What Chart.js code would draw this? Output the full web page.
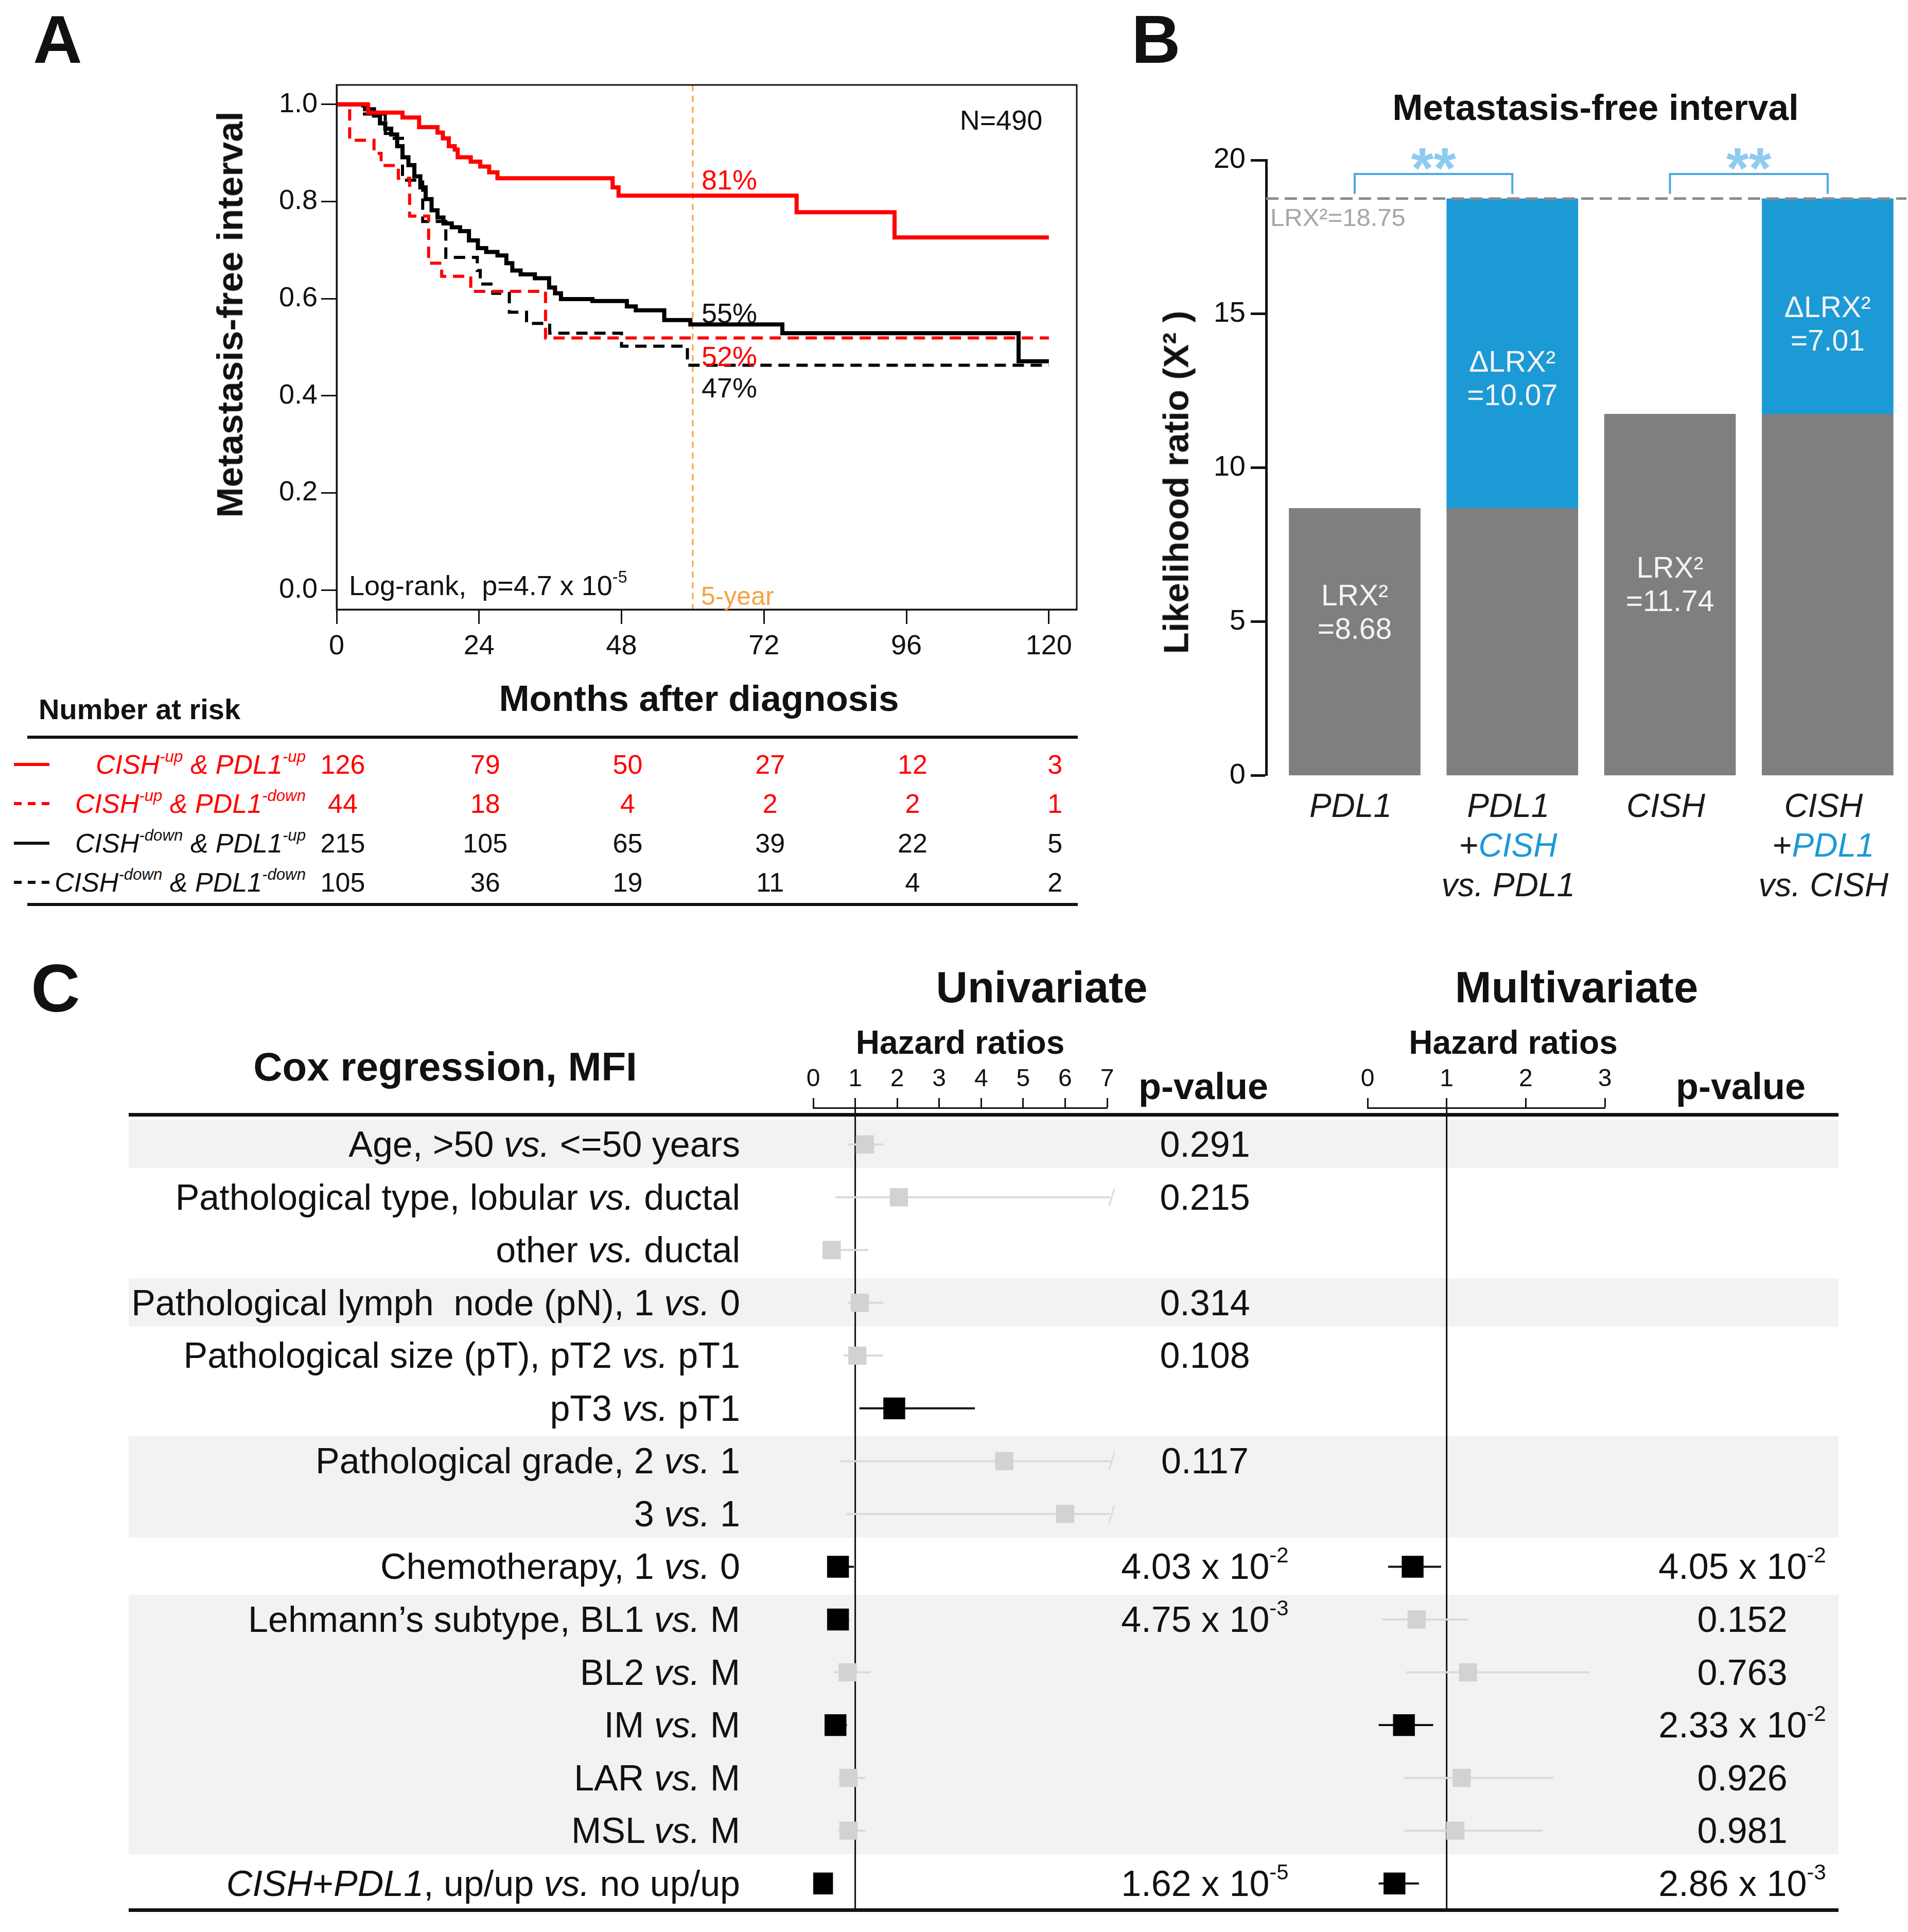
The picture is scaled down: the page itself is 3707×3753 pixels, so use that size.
<!DOCTYPE html>
<html><head><meta charset="utf-8"><title>Figure</title>
<script src="https://cdn.jsdelivr.net/npm/chart.js@4.4.1/dist/chart.umd.min.js"></script>
<style>
html,body{margin:0;padding:0;background:#fff;}
body{position:relative;width:3707px;height:3753px;overflow:hidden;font-family:"Liberation Sans",Arial,Helvetica,sans-serif;color:#111;}
canvas{position:absolute;z-index:1;}
.t{position:absolute;white-space:nowrap;z-index:3;}
.band{position:absolute;background:#f2f2f2;z-index:0;}
.rule{position:absolute;background:#111;z-index:2;}
.smp{position:absolute;z-index:2;}
sup{font-size:0.6em;vertical-align:0.75em;line-height:0;}
</style></head><body>
<script>
// ================= DATA =================
// Panel A: Kaplan-Meier, metastasis-free interval (months, survival after each step)
const kmXTicks = [0, 24, 48, 72, 96, 120];
const kmYTicks = [0, 0.2, 0.4, 0.6, 0.8, 1.0];
const kmGroups = ['CISH-up & PDL1-up', 'CISH-up & PDL1-down', 'CISH-down & PDL1-up', 'CISH-down & PDL1-down'];
const upUpT = [0, 5.3, 11.1, 13.9, 17.0, 17.9, 18.9, 19.9, 20.4, 22.6, 24.2, 25.7, 27.1, 46.5, 47.5, 77.5, 94.0, 120];
const upUpS = [1, 0.983, 0.973, 0.953, 0.942, 0.93, 0.914, 0.907, 0.891, 0.882, 0.872, 0.86, 0.848, 0.829, 0.812, 0.778, 0.726, 0.726];
const upDownT = [0, 2.2, 6.3, 7.5, 10.4, 12.3, 15.5, 17.7, 22.6, 35.2, 120];
const upDownS = [1, 0.926, 0.899, 0.874, 0.848, 0.77, 0.673, 0.646, 0.615, 0.519, 0.519];
const downUpT = [0, 4.8, 6.3, 7.3, 8.2, 9.2, 10.2, 11.1, 12.1, 13.1, 14.1, 15.0, 16.0, 17.0, 18.0, 19.4, 20.8, 22.3, 23.8, 25.2, 27.1, 28.6, 29.6, 31.0, 33.4, 35.8, 36.8, 37.8, 43.1, 48.9, 50.4, 55.2, 59.6, 75.1, 114.9, 120];
const downUpS = [1, 0.99, 0.977, 0.961, 0.95, 0.938, 0.914, 0.891, 0.875, 0.852, 0.829, 0.805, 0.782, 0.767, 0.755, 0.747, 0.739, 0.72, 0.704, 0.696, 0.689, 0.673, 0.658, 0.65, 0.642, 0.623, 0.611, 0.599, 0.595, 0.584, 0.576, 0.556, 0.547, 0.529, 0.471, 0.471];
const downDownT = [0, 4.4, 8.2, 9.7, 11.1, 14.5, 18.4, 23.7, 24.2, 26.3, 29.1, 32.0, 35.9, 48.0, 59.1, 120];
const downDownS = [1, 0.98, 0.94, 0.93, 0.844, 0.759, 0.685, 0.658, 0.63, 0.611, 0.572, 0.549, 0.529, 0.502, 0.463, 0.463];
const fiveYear = 60;
const kmAt5 = [0.81, 0.52, 0.55, 0.47];            // upUp, upDown, downUp, downDown
const riskUpUp = [126, 79, 50, 27, 12, 3];
const riskUpDown = [44, 18, 4, 2, 2, 1];
const riskDownUp = [215, 105, 65, 39, 22, 5];
const riskDownDown = [105, 36, 19, 11, 4, 2];
const nTotal = 490;
const logRankP = '4.7 x 10-5';

// Panel B: likelihood ratio chi-square
const bCatMain = ['PDL1', 'PDL1', 'CISH', 'CISH'];
const bCatAdded = [null, 'CISH', null, 'PDL1'];
const bBase = [8.68, 8.68, 11.74, 11.74];
const bDelta = [0, 10.07, 0, 7.01];
const bFull = 18.75;
const bTicks = [0, 5, 10, 15, 20];
const bPairs = [[0, 1], [2, 3]];

// Panel C: Cox regression forest plot
const rowLabels = [
  'Age, >50 vs. <=50 years',
  'Pathological type, lobular vs. ductal',
  'other vs. ductal',
  'Pathological lymph  node (pN), 1 vs. 0',
  'Pathological size (pT), pT2 vs. pT1',
  'pT3 vs. pT1',
  'Pathological grade, 2 vs. 1',
  '3 vs. 1',
  'Chemotherapy, 1 vs. 0',
  'Lehmann\u2019s subtype, BL1 vs. M',
  'BL2 vs. M',
  'IM vs. M',
  'LAR vs. M',
  'MSL vs. M',
  'CISH+PDL1, up/up vs. no up/up'
];
const bandGroups = [[0, 0], [3, 3], [6, 7], [9, 13]];
const uniTicks = [0, 1, 2, 3, 4, 5, 6, 7];
const uniHR  = [1.23, 2.04, 0.44, 1.11, 1.05, 1.93, 4.55, 6.0, 0.59, 0.59, 0.82, 0.53, 0.84, 0.84, 0.21];
const uniLo  = [0.82, 0.53, 0.21, 0.82, 0.72, 1.10, 0.65, 0.79, 0.38, 0.42, 0.50, 0.35, 0.60, 0.60, 0.08];
const uniHi  = [1.67, 8.5, 1.31, 1.67, 1.67, 3.85, 8.5, 8.5, 0.97, 0.85, 1.37, 0.80, 1.24, 1.24, 0.45];
const uniSig = [0, 0, 0, 0, 0, 1, 0, 0, 1, 1, 0, 1, 0, 0, 1];
const uniP = ['0.291', '0.215', '', '0.314', '0.108', '', '0.117', '', '4.03 x 10-2', '4.75 x 10-3', '', '', '', '', '1.62 x 10-5'];
const multiTicks = [0, 1, 2, 3];
const multiHR  = [null, null, null, null, null, null, null, null, 0.57, 0.62, 1.27, 0.46, 1.19, 1.11, 0.34];
const multiLo  = [null, null, null, null, null, null, null, null, 0.26, 0.18, 0.49, 0.14, 0.46, 0.46, 0.14];
const multiHi  = [null, null, null, null, null, null, null, null, 0.93, 1.27, 2.81, 0.83, 2.35, 2.21, 0.65];
const multiSig = [0, 0, 0, 0, 0, 0, 0, 0, 1, 0, 0, 1, 0, 0, 1];
const multiP = ['', '', '', '', '', '', '', '', '4.05 x 10-2', '0.152', '0.763', '2.33 x 10-2', '0.926', '0.981', '2.86 x 10-3'];

// ================= HELPERS =================
const FONT = '"Liberation Sans", Arial, Helvetica, sans-serif';
Chart.defaults.font.family = FONT;
Chart.defaults.color = '#111';
const RED = '#ff0000', BLUE = '#1b9ad6';

function mkCanvas(l, t, w, h) {
  const c = document.createElement('canvas');
  c.width = w; c.height = h;
  c.dataset.ox = l; c.dataset.oy = t;
  Object.assign(c.style, {left: l + 'px', top: t + 'px', width: w + 'px', height: h + 'px'});
  document.body.appendChild(c);
  return c;
}
// page coordinates from a chart's scales
const PX = (chart, v, axis) => +chart.canvas.dataset.ox + chart.scales[axis || 'x'].getPixelForValue(v);
const PY = (chart, v, axis) => +chart.canvas.dataset.oy + chart.scales[axis || 'y'].getPixelForValue(v);

function T(html, x, y, o) {
  o = o || {};
  const d = document.createElement('div');
  d.className = 't'; d.innerHTML = html;
  const size = o.size || 54, lh = o.lh || Math.round(size * 1.15);
  const s = d.style;
  s.left = x + 'px'; s.top = y + 'px';
  s.fontSize = size + 'px'; s.lineHeight = lh + 'px';
  s.fontWeight = o.bold ? '700' : '400';
  s.fontStyle = o.italic ? 'italic' : 'normal';
  s.color = o.color || '#111';
  if (o.pre) s.whiteSpace = 'pre';
  if (o.ta) s.textAlign = o.ta;
  const tx = o.align === 'l' ? '0' : (o.align === 'r' ? '-100%' : '-50%');
  const ty = o.first ? (-lh / 2) + 'px' : '-50%';
  s.transform = 'translate(' + tx + ',' + ty + ')' + (o.rot ? ' rotate(' + o.rot + 'deg)' : '');
  document.body.appendChild(d);
  return d;
}
function blk(cls, l, t, w, h, bg) {
  const d = document.createElement('div');
  d.className = cls;
  Object.assign(d.style, {left: l + 'px', top: t + 'px', width: w + 'px', height: h + 'px'});
  if (bg) d.style.background = bg;
  document.body.appendChild(d);
  return d;
}
const pts = (t, s) => t.map((v, i) => ({x: v, y: s[i]}));
const esc = s => s.replace(/&/g, '&amp;').replace(/</g, '&lt;').replace(/>/g, '&gt;');
const fmtP = s => s.replace(/10-(\d)/, '10<sup>-$1</sup>');
const fmtRow = s => esc(s).replace(/\bvs\./g, '<i>vs.</i>').replace(/(CISH|PDL1)/g, '<i>$1</i>');
const supLabel = g => g.split(' & ').map(p => { const k = p.indexOf('-'); return p.slice(0, k) + '<sup>' + p.slice(k) + '</sup>'; }).join(' &amp; ');

// ================= PANEL A =================
const kmDeco = {
  id: 'kmDeco',
  beforeDatasetsDraw(chart) {
    const {ctx, chartArea: a, scales: {x}} = chart;
    const px = x.getPixelForValue(fiveYear);
    ctx.save();
    ctx.strokeStyle = '#f5a342'; ctx.lineWidth = 3; ctx.setLineDash([12, 9]);
    ctx.beginPath(); ctx.moveTo(px, a.top); ctx.lineTo(px, a.bottom); ctx.stroke();
    ctx.restore();
  },
  afterDraw(chart) {
    const {ctx, chartArea: a} = chart;
    ctx.save();
    ctx.strokeStyle = '#111'; ctx.lineWidth = 3;
    ctx.strokeRect(a.left, a.top, a.right - a.left, a.bottom - a.top);
    ctx.restore();
  }
};
const lineCommon = {stepped: true, pointRadius: 0, pointHoverRadius: 0, fill: false, tension: 0, borderJoinStyle: 'miter', borderCapStyle: 'butt'};
const cA = mkCanvas(300, 100, 1900, 1220);
const kmChart = new Chart(cA, {
  type: 'line',
  data: {datasets: [
    Object.assign({label: kmGroups[0], data: pts(upUpT, upUpS), borderColor: RED, borderWidth: 8}, lineCommon),
    Object.assign({label: kmGroups[2], data: pts(downUpT, downUpS), borderColor: '#000', borderWidth: 8}, lineCommon),
    Object.assign({label: kmGroups[1], data: pts(upDownT, upDownS), borderColor: RED, borderWidth: 6, borderDash: [22, 13]}, lineCommon),
    Object.assign({label: kmGroups[3], data: pts(downDownT, downDownS), borderColor: '#000', borderWidth: 6, borderDash: [22, 13]}, lineCommon)
  ]},
  options: {
    responsive: false, devicePixelRatio: 1, animation: false, events: [],
    layout: {padding: {left: 0, top: 65, right: 108, bottom: 0}},
    plugins: {legend: {display: false}, tooltip: {enabled: false}},
    scales: {
      x: {type: 'linear', min: 0, max: 124.7,
        afterBuildTicks: s => { s.ticks = kmXTicks.map(v => ({value: v})); },
        afterFit: s => { s.height = 136; },
        grid: {drawOnChartArea: false, tickLength: 28, tickColor: '#111', tickWidth: 3},
        border: {color: '#111', width: 3},
        ticks: {font: {size: 54}, color: '#111', padding: 12, maxRotation: 0, autoSkip: false}},
      y: {type: 'linear', min: -0.04, max: 1.04,
        afterBuildTicks: s => { s.ticks = kmYTicks.map(v => ({value: v})); },
        afterFit: s => { s.width = 354; },
        grid: {drawOnChartArea: false, tickLength: 30, tickColor: '#111', tickWidth: 3},
        border: {color: '#111', width: 3},
        ticks: {font: {size: 54}, color: '#111', padding: 7, callback: v => Number(v).toFixed(1)}}
    }
  },
  plugins: [kmDeco]
});
(function () {
  T('A', 112, 77, {size: 132, bold: true});
  T('Metastasis-free interval', 447, 611, {size: 71, bold: true, rot: -90});
  T('N=' + nTotal, 1945, 233, {size: 54});
  const p5 = PX(kmChart, fiveYear);
  const pctColor = [RED, RED, '#111', '#111'];
  const pctOff = [0.035, -0.039, 0.02, -0.053];
  kmAt5.forEach((v, i) => T(Math.round(v * 100) + '%', p5 + 17, PY(kmChart, v + pctOff[i]), {size: 54, color: pctColor[i], align: 'l'}));
  T('5-year', p5 + 16, 1158, {size: 50, color: '#f5a342', align: 'l'});
  T('Log-rank,&nbsp; p=' + fmtP(logRankP), 678, 1137, {size: 54, align: 'l'});
  // risk table
  T('Number at risk', 75, 1378, {size: 56, bold: true, align: 'l'});
  T('Months after diagnosis', 1358, 1357, {size: 71, bold: true});
  blk('rule', 53, 1429, 2041, 6);
  blk('rule', 53, 1754, 2041, 6);
  const risk = [riskUpUp, riskUpDown, riskDownUp, riskDownDown];
  const col = [RED, RED, '#111', '#111'];
  const dashed = [false, true, false, true];
  risk.forEach((r, i) => {
    const y = 1485 + i * 76.3;
    T(supLabel(kmGroups[i]), 594, y, {size: 52, italic: true, color: col[i], align: 'r'});
    const smp = blk('smp', 27, y - 3, 69, 6);
    smp.style.background = dashed[i] ? 'repeating-linear-gradient(90deg,' + col[i] + ' 0 15px, transparent 15px 27px)' : col[i];
    r.forEach((n, k) => T(String(n), PX(kmChart, kmXTicks[k]) + 12, y, {size: 52, color: col[i]}));
  });
})();

// ================= PANEL B =================
const bDeco = {
  id: 'bDeco',
  afterDatasetsDraw(chart) {
    const {ctx, chartArea: a, scales: {x, y}} = chart;
    ctx.save();
    const yl = y.getPixelForValue(bFull);
    ctx.strokeStyle = '#8c8c8c'; ctx.lineWidth = 5; ctx.setLineDash([24, 12]);
    ctx.beginPath(); ctx.moveTo(a.left, yl); ctx.lineTo(a.right, yl); ctx.stroke();
    ctx.setLineDash([]);
    ctx.strokeStyle = '#4ea9e2'; ctx.lineWidth = 4;
    bPairs.forEach(([i, j]) => {
      const x1 = x.getPixelForValue(i), x2 = x.getPixelForValue(j);
      const yt = y.getPixelForValue(19.55), yb = y.getPixelForValue(18.9);
      ctx.beginPath(); ctx.moveTo(x1, yb); ctx.lineTo(x1, yt); ctx.lineTo(x2, yt); ctx.lineTo(x2, yb); ctx.stroke();
    });
    ctx.restore();
  }
};
const cB = mkCanvas(2150, 250, 1557, 1300);
const bChart = new Chart(cB, {
  type: 'bar',
  data: {datasets: [
    {label: 'LRX\u00b2', data: bBase.map((v, i) => ({x: i, y: v})), backgroundColor: '#7f7f7f', barThickness: 255, borderWidth: 0},
    {label: '\u0394LRX\u00b2', data: bDelta.map((v, i) => ({x: i, y: v})), backgroundColor: BLUE, barThickness: 255, borderWidth: 0}
  ]},
  options: {
    responsive: false, devicePixelRatio: 1, animation: false, events: [],
    layout: {padding: {left: 0, top: 61, right: 3, bottom: 26}},
    plugins: {legend: {display: false}, tooltip: {enabled: false}},
    scales: {
      x: {type: 'linear', display: false, stacked: true, offset: false, min: -0.5615, max: 3.5,
        grid: {offset: false},
        afterBuildTicks: s => { s.ticks = bBase.map((_, i) => ({value: i})); }},
      y: {stacked: true, min: 0, max: 20,
        afterBuildTicks: s => { s.ticks = bTicks.map(v => ({value: v})); },
        afterFit: s => { s.width = 310; },
        grid: {drawOnChartArea: false, tickLength: 30, tickColor: '#111', tickWidth: 5},
        border: {color: '#111', width: 5},
        ticks: {font: {size: 56}, color: '#111', padding: 10}}
    }
  },
  plugins: [bDeco]
});
(function () {
  T('B', 2246, 77, {size: 132, bold: true});
  T('Metastasis-free interval', 3100, 209, {size: 71, bold: true});
  T('Likelihood ratio (X\u00b2 )', 2285, 937, {size: 69, bold: true, rot: -90});
  T('LRX\u00b2=' + bFull.toFixed(2), 2468, PY(bChart, bFull) + 36, {size: 49, color: '#a6a6a6', align: 'l'});
  bPairs.forEach(([i, j]) => {
    const cx = (PX(bChart, i) + PX(bChart, j)) / 2;
    T('**', cx, PY(bChart, 19.55) - 12, {size: 112, bold: true, color: '#8ecbf0'});
  });
  bBase.forEach((v, i) => {
    const cx = PX(bChart, i);
    if (bDelta[i] > 0) {
      T('\u0394LRX\u00b2<br>=' + bDelta[i].toFixed(2), cx, PY(bChart, v + bDelta[i] * 0.42), {size: 57, lh: 65, color: '#f4f4f4', ta: 'center'});
    } else {
      T('LRX\u00b2<br>=' + v.toFixed(2), cx, PY(bChart, 2.7 + v * 0.3), {size: 57, lh: 65, color: '#f4f4f4', ta: 'center'});
    }
    let html = '<i>' + bCatMain[i] + '</i>';
    if (bCatAdded[i]) html += '<br>+<i style="color:' + BLUE + '">' + bCatAdded[i] + '</i><br><i>vs. ' + bCatMain[i] + '</i>';
    T(html, cx - 8, 1565, {size: 64, lh: 77, first: true, ta: 'center', color: '#1a1a1a'});
  });
})();

// ================= PANEL C =================
const forestPlugin = {
  id: 'forest',
  beforeDatasetsDraw(chart) {
    const {ctx, chartArea: a, scales: {x, y}} = chart;
    ctx.save();
    const p1 = x.getPixelForValue(1);
    ctx.strokeStyle = '#111'; ctx.lineWidth = 3;
    ctx.beginPath(); ctx.moveTo(p1, a.top); ctx.lineTo(p1, a.bottom); ctx.stroke();
    chart.data.datasets[0].data.forEach(d => {
      const py = y.getPixelForValue(d.y);
      const over = d.hi > x.max;
      const xl = x.getPixelForValue(Math.max(d.lo, x.min));
      const xh = x.getPixelForValue(Math.min(d.hi, x.max)) + (over ? 6 : 0);
      const c = d.sig ? '#111' : '#dadada';
      ctx.strokeStyle = c; ctx.lineWidth = 4;
      ctx.beginPath(); ctx.moveTo(xl, py); ctx.lineTo(xh, py); ctx.stroke();
      if (over) {
        ctx.lineWidth = 3;
        ctx.beginPath(); ctx.moveTo(xh - 2, py + 17); ctx.lineTo(xh + 8, py - 17); ctx.stroke();
      }
    });
    ctx.restore();
  }
};
function forestChart(left, width, padL, padR, xmax, ticks, data) {
  const c = mkCanvas(left, 2000, width, 1740);
  return new Chart(c, {
    type: 'scatter',
    data: {datasets: [{data: data, pointStyle: 'rect',
      pointRadius: ctx => (ctx.raw && ctx.raw.sig) ? 30 : 25,
      pointHoverRadius: ctx => (ctx.raw && ctx.raw.sig) ? 30 : 25,
      pointBackgroundColor: ctx => (ctx.raw && ctx.raw.sig) ? '#000' : '#d2d2d2',
      pointBorderWidth: 0, pointBorderColor: 'rgba(0,0,0,0)'}]},
    options: {
      responsive: false, devicePixelRatio: 1, animation: false, events: [],
      layout: {padding: {left: padL, right: padR, top: 0, bottom: 18}},
      plugins: {legend: {display: false}, tooltip: {enabled: false}},
      scales: {
        x: {type: 'linear', position: 'top', min: 0, max: xmax,
          afterBuildTicks: s => { s.ticks = ticks.map(v => ({value: v})); },
          afterFit: s => { s.height = 152; },
          grid: {drawOnChartArea: false, tickLength: 19, tickColor: '#111', tickWidth: 3},
          border: {color: '#111', width: 3},
          ticks: {font: {size: 48}, color: '#111', padding: 7, maxRotation: 0, autoSkip: false}},
        y: {type: 'linear', display: false, min: -0.694, max: 14.5, reverse: true}
      }
    },
    plugins: [forestPlugin]
  });
}
const uniData = rowLabels.map((_, i) => ({x: uniHR[i], y: i, lo: uniLo[i], hi: uniHi[i], sig: uniSig[i] === 1}));
const multiData = rowLabels.map((_, i) => multiHR[i] == null ? null : ({x: multiHR[i], y: i, lo: multiLo[i], hi: multiHi[i], sig: multiSig[i] === 1})).filter(Boolean);
const uniChart = forestChart(1480, 760, 100, 89, 7, uniTicks, uniData);
const multiChart = forestChart(2560, 640, 97, 82, 3, multiTicks, multiData);
(function () {
  const ys = i => PY(uniChart, i);
  T('C', 108, 1920, {size: 132, bold: true});
  T('Univariate', 2024, 1918, {size: 85, bold: true});
  T('Multivariate', 3063, 1918, {size: 85, bold: true});
  T('Cox regression, MFI', 865, 2072, {size: 78, bold: true});
  T('Hazard ratios', (PX(uniChart, 0) + PX(uniChart, 7)) / 2, 2025, {size: 64, bold: true});
  T('Hazard ratios', 2940, 2025, {size: 64, bold: true});
  T('p-value', 2338, 2110, {size: 72, bold: true});
  T('p-value', 3382, 2110, {size: 72, bold: true});
  bandGroups.forEach(([a, b]) => blk('band', 250, ys(a) - 48, 3322, ys(b) - ys(a) + 94));
  blk('rule', 250, ys(0) - 61, 3322, 7);
  blk('rule', 250, ys(14) + 48, 3322, 7);
  rowLabels.forEach((lab, i) => {
    T(fmtRow(lab), 1438, ys(i), {size: 70, align: 'r', pre: true});
    if (uniP[i]) T(fmtP(uniP[i]), 2341, ys(i), {size: 70});
    if (multiP[i]) T(fmtP(multiP[i]), 3385, ys(i), {size: 70});
  });
})();
</script>
</body></html>
